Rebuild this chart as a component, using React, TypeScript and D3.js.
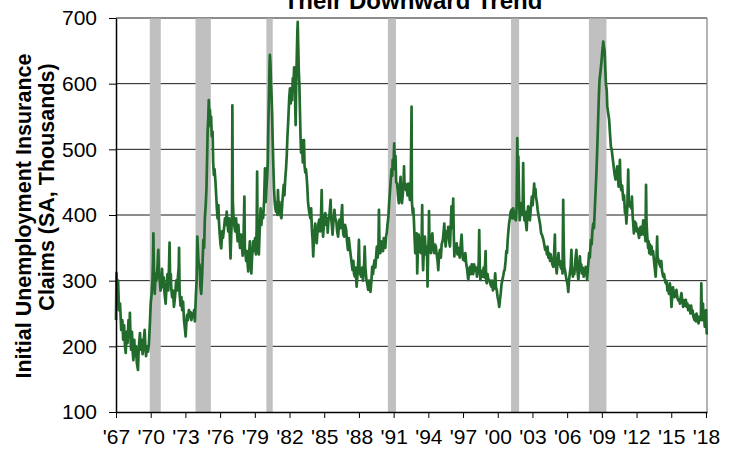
import React, { useEffect, useRef } from "react";
import * as d3 from "d3";

// weekly initial claims (thousands) as [decimal year, value]
const claims1967to1979 = [
  [1967.0, 240], [1967.04, 312], [1967.1, 280], [1967.18, 300], [1967.26, 255], [1967.35, 265],
  [1967.45, 225], [1967.55, 240], [1967.62, 210], [1967.7, 232], [1967.78, 200], [1967.84, 190],
  [1967.92, 222], [1968.0, 205], [1968.08, 240], [1968.15, 215], [1968.2, 251], [1968.26, 210],
  [1968.3, 195], [1968.38, 222], [1968.45, 190], [1968.5, 179], [1968.58, 210], [1968.65, 185],
  [1968.72, 200], [1968.8, 175], [1968.9, 164], [1968.96, 195], [1969.07, 220], [1969.15, 195],
  [1969.22, 210], [1969.3, 188], [1969.38, 205], [1969.48, 225], [1969.55, 195], [1969.6, 185],
  [1969.68, 200], [1969.77, 192], [1969.85, 205], [1969.93, 235], [1970.0, 265], [1970.08, 280],
  [1970.15, 300], [1970.2, 330], [1970.23, 372], [1970.27, 320], [1970.35, 280], [1970.42, 310],
  [1970.5, 300], [1970.58, 320], [1970.66, 347], [1970.72, 310], [1970.8, 295], [1970.85, 285],
  [1970.92, 300], [1970.98, 318], [1971.05, 290], [1971.12, 305], [1971.2, 280], [1971.29, 265],
  [1971.38, 295], [1971.45, 310], [1971.52, 285], [1971.58, 320], [1971.63, 358], [1971.68, 300],
  [1971.74, 310], [1971.78, 288], [1971.85, 275], [1971.92, 285], [1972.01, 260], [1972.1, 275],
  [1972.2, 300], [1972.28, 285], [1972.35, 305], [1972.42, 320], [1972.45, 350], [1972.5, 280],
  [1972.58, 262], [1972.65, 275], [1972.72, 255], [1972.8, 268], [1972.88, 240], [1972.95, 228],
  [1973.02, 215], [1973.08, 235], [1973.15, 248], [1973.22, 240], [1973.3, 255], [1973.38, 245],
  [1973.45, 252], [1973.52, 240], [1973.6, 250], [1973.68, 245], [1973.75, 255], [1973.82, 238],
  [1973.9, 275], [1973.97, 300], [1974.03, 367], [1974.1, 340], [1974.16, 320], [1974.22, 325],
  [1974.3, 290], [1974.37, 280], [1974.45, 310], [1974.55, 362], [1974.62, 350], [1974.68, 395],
  [1974.75, 413], [1974.82, 440], [1974.88, 490], [1974.92, 527], [1974.97, 545], [1975.02, 575],
  [1975.07, 555], [1975.12, 560], [1975.18, 535], [1975.22, 550], [1975.28, 520], [1975.35, 527],
  [1975.4, 480], [1975.46, 461], [1975.52, 470], [1975.6, 450], [1975.66, 430], [1975.72, 410],
  [1975.78, 395], [1975.85, 415], [1975.9, 390], [1975.97, 370], [1976.04, 355], [1976.1, 349],
  [1976.18, 375], [1976.25, 365], [1976.34, 380], [1976.42, 395], [1976.5, 385], [1976.57, 405],
  [1976.63, 390], [1976.7, 375], [1976.78, 395], [1976.85, 360], [1976.9, 334], [1976.96, 370],
  [1977.03, 400], [1977.06, 567], [1977.1, 420], [1977.15, 400], [1977.22, 385], [1977.3, 375],
  [1977.38, 395], [1977.45, 375], [1977.52, 360], [1977.58, 385], [1977.65, 365], [1977.72, 350],
  [1977.8, 370], [1977.88, 355], [1977.95, 338], [1978.02, 360], [1978.1, 428], [1978.14, 350],
  [1978.2, 340], [1978.25, 330], [1978.32, 345], [1978.38, 325], [1978.43, 314], [1978.5, 340],
  [1978.57, 360], [1978.63, 330], [1978.7, 311], [1978.76, 335], [1978.86, 360], [1978.93, 345],
  [1979.02, 365], [1979.1, 340], [1979.16, 380], [1979.2, 466], [1979.24, 360], [1979.3, 350],
  [1979.35, 340], [1979.42, 375], [1979.5, 410], [1979.57, 385], [1979.64, 405], [1979.72, 395],
  [1979.8, 420], [1979.88, 471], [1979.94, 420],
];

const claims1980to1992 = [
  [1980.0, 440], [1980.07, 460], [1980.12, 480], [1980.16, 527], [1980.22, 580], [1980.27, 625],
  [1980.3, 644], [1980.35, 630], [1980.4, 600], [1980.45, 580], [1980.5, 552], [1980.55, 510],
  [1980.6, 476], [1980.66, 440], [1980.72, 420], [1980.78, 410], [1980.83, 405], [1980.9, 420],
  [1980.96, 400], [1981.0, 438], [1981.06, 410], [1981.12, 420], [1981.2, 400], [1981.26, 398],
  [1981.3, 395], [1981.38, 420], [1981.45, 435], [1981.5, 446], [1981.56, 430], [1981.63, 455],
  [1981.7, 471], [1981.76, 490], [1981.82, 520], [1981.88, 540], [1981.93, 560], [1981.98, 580],
  [1982.04, 593], [1982.1, 570], [1982.16, 590], [1982.22, 575], [1982.28, 608], [1982.34, 600],
  [1982.4, 625], [1982.45, 619], [1982.5, 560], [1982.53, 537], [1982.58, 600], [1982.64, 650],
  [1982.68, 680], [1982.71, 694], [1982.75, 660], [1982.8, 620], [1982.85, 600], [1982.9, 560],
  [1982.95, 520], [1983.0, 495], [1983.05, 514], [1983.1, 500], [1983.15, 480], [1983.2, 500],
  [1983.25, 514], [1983.3, 475], [1983.36, 465], [1983.42, 470], [1983.48, 458], [1983.53, 445],
  [1983.6, 420], [1983.66, 410], [1983.72, 403], [1983.8, 395], [1983.87, 410], [1983.93, 380],
  [1984.0, 360], [1984.05, 337], [1984.1, 360], [1984.16, 375], [1984.22, 387], [1984.28, 370],
  [1984.35, 357], [1984.42, 375], [1984.48, 385], [1984.57, 393], [1984.64, 375], [1984.72, 395],
  [1984.78, 438], [1984.83, 390], [1984.9, 367], [1984.97, 385], [1985.05, 400], [1985.1, 403],
  [1985.18, 385], [1985.25, 395], [1985.3, 373], [1985.38, 395], [1985.45, 400], [1985.55, 423],
  [1985.6, 395], [1985.66, 385], [1985.72, 370], [1985.8, 390], [1985.88, 408], [1985.95, 395],
  [1986.05, 390], [1986.12, 375], [1986.2, 367], [1986.26, 380], [1986.32, 393], [1986.4, 380],
  [1986.48, 398], [1986.55, 415], [1986.6, 380], [1986.66, 370], [1986.72, 367], [1986.8, 385],
  [1986.9, 377], [1986.97, 360], [1987.05, 347], [1987.12, 365], [1987.2, 352], [1987.28, 340],
  [1987.35, 330], [1987.45, 316], [1987.52, 330], [1987.58, 310], [1987.65, 306], [1987.72, 320],
  [1987.8, 291], [1987.88, 310], [1987.94, 330], [1988.0, 362], [1988.05, 320], [1988.12, 310],
  [1988.2, 306], [1988.28, 320], [1988.35, 300], [1988.4, 311], [1988.46, 330], [1988.5, 352],
  [1988.56, 320], [1988.65, 301], [1988.72, 295], [1988.8, 286], [1988.88, 300], [1988.95, 290],
  [1989.0, 283], [1989.08, 300], [1989.15, 321], [1989.22, 310], [1989.3, 325], [1989.35, 331],
  [1989.42, 320], [1989.5, 340], [1989.55, 352], [1989.62, 335], [1989.68, 345], [1989.73, 408],
  [1989.78, 350], [1989.85, 342], [1989.92, 360], [1990.0, 352], [1990.08, 345], [1990.15, 365],
  [1990.2, 362], [1990.28, 350], [1990.35, 368], [1990.4, 372], [1990.47, 385], [1990.55, 398],
  [1990.62, 420], [1990.68, 435], [1990.75, 453], [1990.82, 470], [1990.88, 460], [1990.92, 484],
  [1990.98, 470], [1991.05, 509], [1991.1, 470], [1991.16, 490], [1991.22, 450], [1991.3, 448],
  [1991.38, 430], [1991.45, 418], [1991.52, 440], [1991.6, 458], [1991.66, 425], [1991.72, 418],
  [1991.8, 433], [1991.86, 450], [1991.9, 474], [1991.95, 440], [1992.02, 448], [1992.07, 438],
  [1992.14, 445], [1992.2, 430], [1992.27, 448], [1992.35, 435], [1992.4, 423], [1992.47, 430],
  [1992.55, 565], [1992.58, 420], [1992.65, 403], [1992.7, 410], [1992.75, 393], [1992.8, 370],
  [1992.87, 342], [1992.93, 365],
];

const claims1993to2005 = [
  [1993.0, 372], [1993.04, 311], [1993.1, 350], [1993.16, 370], [1993.22, 362], [1993.28, 345],
  [1993.35, 342], [1993.42, 360], [1993.47, 415], [1993.51, 340], [1993.55, 316], [1993.62, 350],
  [1993.7, 367], [1993.78, 340], [1993.85, 352], [1993.9, 330], [1993.93, 291], [1993.98, 340],
  [1994.03, 365], [1994.06, 406], [1994.1, 360], [1994.16, 345], [1994.22, 342], [1994.28, 365],
  [1994.35, 372], [1994.42, 350], [1994.5, 342], [1994.58, 355], [1994.65, 352], [1994.72, 340],
  [1994.8, 330], [1994.86, 316], [1994.93, 340], [1995.0, 347], [1995.08, 335], [1995.15, 355],
  [1995.25, 362], [1995.3, 370], [1995.38, 387], [1995.44, 365], [1995.5, 352], [1995.58, 375],
  [1995.65, 365], [1995.72, 382], [1995.8, 360], [1995.87, 352], [1995.93, 380], [1996.0, 413],
  [1996.05, 380], [1996.1, 395], [1996.15, 425], [1996.2, 370], [1996.25, 337], [1996.32, 355],
  [1996.38, 345], [1996.45, 357], [1996.52, 340], [1996.58, 350], [1996.65, 342], [1996.72, 335],
  [1996.8, 355], [1996.88, 370], [1996.94, 345], [1997.0, 332], [1997.08, 340], [1997.15, 330],
  [1997.2, 342], [1997.28, 325], [1997.35, 318], [1997.45, 301], [1997.52, 315], [1997.6, 321],
  [1997.68, 310], [1997.75, 325], [1997.8, 316], [1997.88, 310], [1997.95, 325], [1998.0, 321],
  [1998.08, 315], [1998.14, 320], [1998.2, 306], [1998.28, 315], [1998.35, 325], [1998.4, 377],
  [1998.45, 320], [1998.5, 301], [1998.58, 315], [1998.65, 310], [1998.7, 306], [1998.78, 320],
  [1998.86, 305], [1998.95, 345], [1999.0, 300], [1999.05, 296], [1999.12, 310], [1999.2, 300],
  [1999.28, 301], [1999.36, 295], [1999.45, 291], [1999.52, 300], [1999.58, 285], [1999.63, 296],
  [1999.7, 288], [1999.78, 311], [1999.85, 290], [1999.92, 285], [1999.98, 276], [2000.05, 270],
  [2000.13, 260], [2000.2, 272], [2000.26, 281], [2000.33, 295], [2000.4, 301], [2000.48, 308],
  [2000.55, 315], [2000.6, 316], [2000.68, 330], [2000.74, 345], [2000.8, 342], [2000.86, 362],
  [2000.92, 375], [2000.98, 387], [2001.05, 395], [2001.12, 405], [2001.2, 408], [2001.28, 395],
  [2001.34, 410], [2001.4, 403], [2001.48, 395], [2001.57, 392], [2001.63, 410], [2001.69, 517],
  [2001.74, 460], [2001.78, 489], [2001.84, 430], [2001.9, 392], [2001.96, 405], [2002.05, 418],
  [2002.1, 400], [2002.15, 405], [2002.2, 479], [2002.24, 420], [2002.3, 392], [2002.36, 405],
  [2002.42, 390], [2002.5, 377], [2002.56, 400], [2002.63, 413], [2002.7, 395], [2002.78, 392],
  [2002.86, 410], [2002.95, 428], [2003.02, 415], [2003.08, 430], [2003.15, 448], [2003.2, 430],
  [2003.26, 440], [2003.3, 428], [2003.38, 420], [2003.45, 408], [2003.52, 400], [2003.6, 392],
  [2003.67, 385], [2003.75, 372], [2003.82, 370], [2003.9, 365], [2003.95, 362], [2004.02, 355],
  [2004.1, 347], [2004.18, 350], [2004.25, 340], [2004.3, 352], [2004.38, 335], [2004.45, 342],
  [2004.52, 330], [2004.58, 340], [2004.65, 332], [2004.72, 325], [2004.8, 321], [2004.86, 335],
  [2004.94, 370], [2004.98, 330], [2005.05, 320], [2005.1, 311], [2005.18, 330], [2005.25, 342],
  [2005.32, 325], [2005.38, 330], [2005.43, 321], [2005.5, 318], [2005.55, 325], [2005.6, 311],
  [2005.66, 423], [2005.7, 360], [2005.75, 321], [2005.82, 315], [2005.9, 306], [2005.96, 300],
];

const claims2006to2018 = [
  [2006.03, 295], [2006.1, 283], [2006.16, 300], [2006.23, 311], [2006.3, 320], [2006.37, 347],
  [2006.42, 315], [2006.5, 306], [2006.56, 318], [2006.62, 310], [2006.67, 321], [2006.73, 335],
  [2006.8, 347], [2006.86, 320], [2006.92, 310], [2006.97, 301], [2007.04, 320], [2007.1, 337],
  [2007.16, 320], [2007.22, 325], [2007.27, 311], [2007.35, 320], [2007.43, 306], [2007.5, 315],
  [2007.56, 310], [2007.6, 321], [2007.66, 315], [2007.73, 301], [2007.8, 320], [2007.85, 330],
  [2007.9, 342], [2007.96, 335], [2008.05, 362], [2008.12, 355], [2008.18, 375], [2008.25, 387],
  [2008.32, 380], [2008.4, 413], [2008.47, 440], [2008.54, 469], [2008.6, 500], [2008.68, 545],
  [2008.74, 580], [2008.8, 606], [2008.86, 615], [2008.92, 625], [2008.98, 636], [2009.04, 650],
  [2009.08, 655], [2009.12, 664], [2009.18, 655], [2009.23, 651], [2009.28, 630], [2009.35, 600],
  [2009.42, 590], [2009.47, 565], [2009.55, 555], [2009.63, 545], [2009.7, 525], [2009.78, 504],
  [2009.85, 500], [2009.92, 489], [2009.98, 480], [2010.05, 469], [2010.12, 460], [2010.18, 454],
  [2010.25, 465], [2010.33, 474], [2010.4, 455], [2010.45, 443], [2010.5, 450], [2010.56, 484],
  [2010.6, 455], [2010.67, 438], [2010.75, 445], [2010.85, 423], [2010.92, 430], [2011.0, 403],
  [2011.06, 410], [2011.12, 387], [2011.2, 410], [2011.28, 469], [2011.33, 420], [2011.42, 413],
  [2011.5, 420], [2011.55, 410], [2011.6, 428], [2011.66, 400], [2011.72, 385], [2011.77, 372],
  [2011.85, 390], [2011.95, 387], [2012.02, 375], [2012.08, 380], [2012.15, 372], [2012.22, 365],
  [2012.28, 375], [2012.35, 382], [2012.42, 370], [2012.5, 375], [2012.58, 392], [2012.65, 370],
  [2012.72, 372], [2012.77, 360], [2012.82, 446], [2012.86, 390], [2012.93, 367], [2013.0, 350],
  [2013.05, 360], [2013.1, 342], [2013.17, 355], [2013.23, 340], [2013.3, 352], [2013.37, 340],
  [2013.43, 345], [2013.5, 332], [2013.57, 320], [2013.65, 306], [2013.72, 330], [2013.78, 367],
  [2013.82, 335], [2013.9, 332], [2013.98, 325], [2014.07, 321], [2014.14, 330], [2014.2, 315],
  [2014.3, 306], [2014.38, 310], [2014.45, 300], [2014.53, 296], [2014.6, 300], [2014.67, 285],
  [2014.74, 286], [2014.8, 280], [2014.88, 296], [2014.95, 285], [2015.02, 260], [2015.08, 275],
  [2015.15, 290], [2015.22, 281], [2015.3, 275], [2015.38, 282], [2015.45, 286], [2015.52, 275],
  [2015.6, 270], [2015.68, 271], [2015.75, 265], [2015.82, 275], [2015.88, 281], [2015.95, 270],
  [2016.03, 260], [2016.1, 270], [2016.18, 262], [2016.26, 271], [2016.33, 260], [2016.4, 265],
  [2016.46, 255], [2016.53, 262], [2016.6, 258], [2016.66, 250], [2016.72, 262], [2016.78, 250],
  [2016.84, 255], [2016.92, 245], [2017.01, 240], [2017.08, 248], [2017.14, 238], [2017.19, 250],
  [2017.25, 245], [2017.3, 240], [2017.36, 235], [2017.43, 245], [2017.5, 240], [2017.56, 242],
  [2017.6, 296], [2017.64, 250], [2017.68, 240], [2017.74, 265], [2017.77, 255], [2017.84, 245],
  [2017.9, 230], [2017.96, 235], [2018.01, 255], [2018.04, 232], [2018.07, 218],
];

// NBER recessions shaded on the chart (start, end)
const recessions = [
  [1969.92, 1970.87],
  [1973.87, 1975.2],
  [1980.0, 1980.55],
  [1990.5, 1991.2],
  [2001.15, 2001.85],
  [2007.88, 2009.4],
];

const yearTicks = [1967, 1970, 1973, 1976, 1979, 1982, 1985, 1988, 1991, 1994, 1997, 2000, 2003, 2006, 2009, 2012, 2015, 2018];
const claimTicks = [100, 200, 300, 400, 500, 600, 700];

const title = "Their Downward Trend";
const yLabel = ["Initial Unemployment Insurance", "Claims (SA, Thousands)"];

const font = "'Liberation Sans', Arial, sans-serif";

const App = () => {
  const ref = useRef(null);

  useEffect(() => {
    const width = 731;
    const height = 449;
    const marginTop = 18;
    const marginRight = 24;
    const marginBottom = 37;
    const marginLeft = 116;

    const data = [...claims1967to1979, ...claims1980to1992, ...claims1993to2005, ...claims2006to2018];

    const x = d3
      .scaleLinear()
      .domain([1967, 2018.09])
      .range([marginLeft, width - marginRight]);

    const y = d3
      .scaleLinear()
      .domain([100, 700])
      .range([height - marginBottom, marginTop]);

    const svg = d3
      .select(ref.current)
      .attr("width", width)
      .attr("height", height)
      .attr("viewBox", [0, 0, width, height])
      .style("font-family", font);

    svg.selectAll("*").remove();

    // gridlines
    svg
      .append("g")
      .selectAll("line")
      .data(claimTicks.slice(1))
      .join("line")
      .attr("x1", marginLeft)
      .attr("x2", width - marginRight)
      .attr("y1", (d) => y(d))
      .attr("y2", (d) => y(d))
      .attr("stroke", "#1a1a1a")
      .attr("stroke-width", 1);

    // recession bars
    svg
      .append("g")
      .selectAll("rect")
      .data(recessions)
      .join("rect")
      .attr("x", (d) => x(d[0]))
      .attr("width", (d) => x(d[1]) - x(d[0]))
      .attr("y", y(700) + 0.5)
      .attr("height", y(100) - y(700) - 0.5)
      .attr("fill", "#c0c0c0");

    // right border
    svg
      .append("line")
      .attr("x1", width - marginRight)
      .attr("x2", width - marginRight)
      .attr("y1", y(700))
      .attr("y2", y(100))
      .attr("stroke", "#808080")
      .attr("stroke-width", 1.2);

    const line = d3
      .line()
      .x((d) => x(d[0]))
      .y((d) => y(d[1]));

    svg
      .append("path")
      .datum(data)
      .attr("fill", "none")
      .attr("stroke", "#226b2d")
      .attr("stroke-width", 2.7)
      .attr("stroke-linejoin", "round")
      .attr("d", line);

    // y axis
    svg
      .append("g")
      .attr("transform", `translate(${marginLeft},0)`)
      .call(d3.axisLeft(y).tickValues(claimTicks).tickSize(7).tickPadding(12).tickSizeOuter(0))
      .call((g) => g.select(".domain").attr("stroke", "#000").attr("stroke-width", 1.5))
      .call((g) => g.selectAll(".tick line").attr("stroke", "#000"))
      .call((g) =>
        g.selectAll(".tick text").attr("font-size", 21).attr("font-family", font).attr("fill", "#000")
      );

    // x axis
    svg
      .append("g")
      .attr("transform", `translate(0,${height - marginBottom})`)
      .call(
        d3
          .axisBottom(x)
          .tickValues(yearTicks)
          .tickFormat((d) => "'" + String(d).slice(2))
          .tickSize(6)
          .tickPadding(11)
          .tickSizeOuter(0)
      )
      .call((g) => g.select(".domain").attr("stroke", "#000").attr("stroke-width", 1.5))
      .call((g) => g.selectAll(".tick line").attr("stroke", "#000"))
      .call((g) =>
        g.selectAll(".tick text").attr("font-size", 21).attr("font-family", font).attr("fill", "#000")
      );

    // y label, two lines
    svg
      .append("g")
      .selectAll("text")
      .data(yLabel)
      .join("text")
      .attr("transform", (d, i) => (i === 0 ? "translate(31,216) rotate(-90)" : "translate(54,187) rotate(-90)"))
      .attr("text-anchor", "middle")
      .attr("font-weight", "bold")
      .attr("font-size", 21.5)
      .attr("fill", "#000")
      .text((d) => d);

    // title (top line is cropped off in the source)
    svg
      .append("text")
      .attr("x", 413)
      .attr("y", 9)
      .attr("text-anchor", "middle")
      .attr("font-weight", "bold")
      .attr("font-size", 24)
      .attr("fill", "#000")
      .text(title);
  }, []);

  return <svg ref={ref} style={{ position: "absolute", left: 0, top: 0 }}></svg>;
};

export default App;
